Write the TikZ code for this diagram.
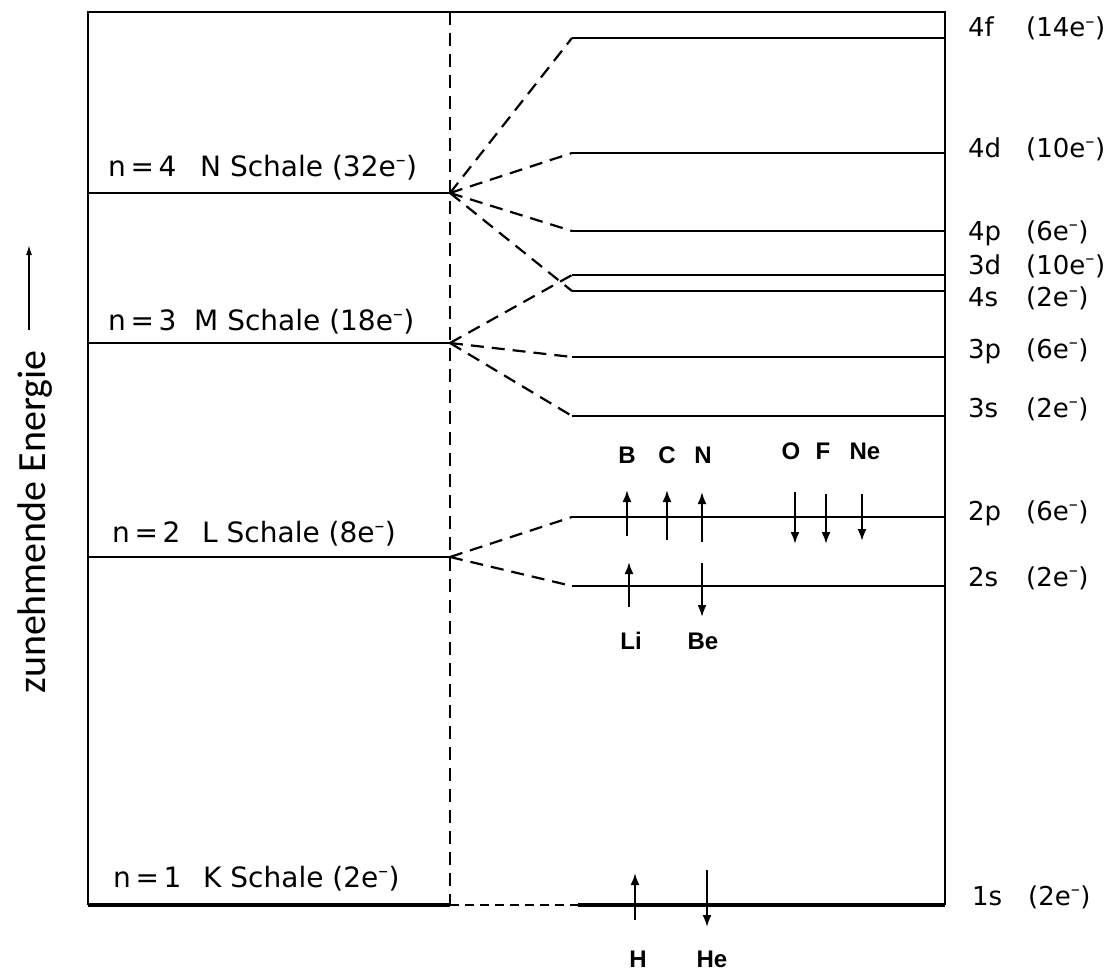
\documentclass[tikz,border=0pt]{standalone}
\usepackage{fontspec}
\setmainfont{DejaVu Sans}
\newfontfamily\elemfont{Liberation Sans}
\newfontfamily\axisfont{Carlito}
\usetikzlibrary{arrows.meta}
\newcommand\elsup{\textsuperscript{–}}

\begin{document}
\begin{tikzpicture}[x=1pt,y=-1pt,
  every node/.style={inner sep=0pt,font=\fontsize{28}{30}\selectfont},
  level/.style={line width=2.6pt},
  split/.style={line width=2.2pt,dash pattern=on 13pt off 8pt},
  spin/.style={line width=2pt,-{Latex[length=12pt,width=9pt]}},
  sublabel/.style={anchor=base west,font=\fontsize{26}{28}\selectfont},
  elem/.style={font=\elemfont\bfseries\fontsize{24}{26}\selectfont}]
\useasboundingbox (0,0) rectangle (1114,974);

% frame and divider
\coordinate (tl) at (88,12);
\coordinate (tr) at (945,12);
\coordinate (bl) at (88,905);
\coordinate (br) at (945,905);
\coordinate (dtop) at (450,12);
\draw[level] (bl) -- (tl) -- (tr) -- (br);

% shells
\coordinate (sN) at (450,193);
\coordinate (sM) at (450,343);
\coordinate (sL) at (450,557);
\coordinate (sK) at (450,905);
\draw[level] (sN -| tl) -- (sN);
\draw[level] (sM -| tl) -- (sM);
\draw[level] (sL -| tl) -- (sL);
\draw[line width=4pt] (bl) -- (sK);
\draw[split] (dtop) -- (sK);

% subshells
\coordinate (f4) at (572,38);
\coordinate (d4) at (572,153);
\coordinate (p4) at (572,231);
\coordinate (d3) at (572,275);
\coordinate (s4) at (572,291);
\coordinate (p3) at (572,357);
\coordinate (s3) at (572,416);
\coordinate (p2) at (572,517);
\coordinate (s2) at (572,586);
\coordinate (s1) at (578,905);
\draw[level] (f4) -- (f4 -| br);
\draw[level] (d4) -- (d4 -| br);
\draw[level] (p4) -- (p4 -| br);
\draw[level] (d3) -- (d3 -| br);
\draw[level] (s4) -- (s4 -| br);
\draw[level] (p3) -- (p3 -| br);
\draw[level] (s3) -- (s3 -| br);
\draw[level] (p2) -- (p2 -| br);
\draw[level] (s2) -- (s2 -| br);
\draw[line width=4.5pt] (s1) -- (br);

% splitting
\draw[split] (sN) -- (f4);
\draw[split] (sN) -- (d4);
\draw[split] (sN) -- (p4);
\draw[split] (sN) -- (s4);
\draw[split] (sM) -- (d3);
\draw[split] (sM) -- (p3);
\draw[split] (sM) -- (s3);
\draw[split] (sL) -- (p2);
\draw[split] (sL) -- (s2);
\draw[line width=1.4pt,dash pattern=on 9pt off 6pt] (sK) -- (s1);

% shell labels
\node[anchor=base west] (lN) at (108,176) {\makebox[92pt][l]{n\,=\,4}N Schale (32e\elsup)};
\node[anchor=base west] (lM) at (108,330) {\makebox[86pt][l]{n\,=\,3}M Schale (18e\elsup)};
\node[anchor=base west] (lL) at (112,542) {\makebox[90pt][l]{n\,=\,2}L Schale (8e\elsup)};
\node[anchor=base west] (lK) at (113,887) {\makebox[90pt][l]{n\,=\,1}K Schale (2e\elsup)};

% subshell labels
\node[sublabel] (lf4) at (968,37) {\makebox[58pt][l]{4f}(14e\elsup)};
\node[sublabel] (ld4) at (968,157) {\makebox[58pt][l]{4d}(10e\elsup)};
\node[sublabel] (lp4) at (968,240) {\makebox[58pt][l]{4p}(6e\elsup)};
\node[sublabel] (ld3) at (968,274) {\makebox[58pt][l]{3d}(10e\elsup)};
\node[sublabel] (ls4) at (968,306) {\makebox[58pt][l]{4s}(2e\elsup)};
\node[sublabel] (lp3) at (968,358) {\makebox[58pt][l]{3p}(6e\elsup)};
\node[sublabel] (ls3) at (968,417) {\makebox[58pt][l]{3s}(2e\elsup)};
\node[sublabel] (lp2) at (968,520) {\makebox[58pt][l]{2p}(6e\elsup)};
\node[sublabel] (ls2) at (968,586) {\makebox[58pt][l]{2s}(2e\elsup)};
\node[sublabel] (ls1) at (972,905) {\makebox[56pt][l]{1s}(2e\elsup)};

% electrons 2p
\node[elem] (B) at (627,455) {B};
\node[elem] (C) at (667,455) {C};
\node[elem] (N) at (703,455) {N};
\node[elem] (O) at (791,451) {O};
\node[elem] (F) at (823,451) {F};
\node[elem] (Ne) at (865,451) {Ne};
\draw[spin] (627,536) -- (627,490);
\draw[spin] (667,540) -- (667,490);
\draw[spin] (702,542) -- (702,492);
\draw[spin] (795,492) -- (795,544);
\draw[spin] (826,494) -- (826,544);
\draw[spin] (862,494) -- (862,541);

% electrons 2s
\node[elem] (Li) at (631,641) {Li};
\node[elem] (Be) at (703,641) {Be};
\draw[spin] (629,607) -- (629,562);
\draw[spin] (702,563) -- (702,617);

% electrons 1s
\node[elem] (H) at (638,959) {H};
\node[elem] (He) at (712,959) {He};
\draw[spin] (635,920) -- (635,873);
\draw[spin] (707,870) -- (707,927);

% energy axis
\node[rotate=90,font=\axisfont\fontsize{40}{42}\selectfont] (axis) at (35,522) {zunehmende Energie};
\coordinate (abase) at (29,330);
\coordinate (atip) at (29,245);
\draw[line width=1.4pt,-{Latex[length=10pt,width=6pt]}] (abase) -- (atip);
\end{tikzpicture}
\end{document}
